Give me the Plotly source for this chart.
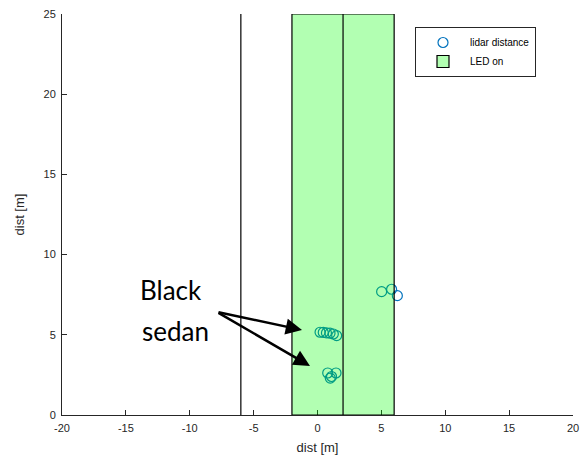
import plotly.graph_objects as go

# data
lidar_x = [0.2, 0.45, 0.7, 0.98, 1.24, 1.5, 0.8, 1.1, 1.0, 1.45, 5.02, 5.8, 6.25]
lidar_y = [5.16, 5.15, 5.12, 5.1, 5.05, 4.95, 2.62, 2.4, 2.3, 2.62, 7.69, 7.84, 7.44]
led_x = [-2, 6]
vlines_x = [-6, 2]
y_range = [0, 25]
x_range = [-20, 20]
x_ticks = [-20, -15, -10, -5, 0, 5, 10, 15, 20]
x_ticklabels = ["-20", "-15", "-10", "-5", "0", "5", "10", "15", "20"]
y_ticks = [0, 5, 10, 15, 20, 25]
y_ticklabels = ["0", "5", "10", "15", "20", "25"]

LED_FILL = "rgba(0,255,0,0.3)"

fig = go.Figure()
fig.add_trace(go.Scatter(
    x=lidar_x, y=lidar_y, mode="markers", name="lidar distance",
    marker=dict(symbol="circle-open", size=10, color="rgb(0,114,189)", line=dict(width=1.2)),
))
# legend entry for the LED patch (patch itself drawn as a shape above the points)
fig.add_trace(go.Bar(
    x=[None], y=[None], name="LED on",
    marker=dict(color=LED_FILL, line=dict(color="black", width=1.2)),
))
fig.add_shape(type="rect", xref="x", yref="y",
              x0=led_x[0], x1=led_x[1], y0=y_range[0], y1=y_range[1],
              fillcolor=LED_FILL, line=dict(color="black", width=1.2), layer="above")
for vx in vlines_x:
    fig.add_shape(type="line", xref="x", yref="y", x0=vx, x1=vx, y0=y_range[0], y1=y_range[1],
                  line=dict(color="black", width=1.2), layer="above")

W, H = 580, 460
L, R, T, B = 62, 7, 14, 45
ax_font = dict(family="Liberation Sans, Arial", size=11, color="#262626")
fig.update_layout(
    width=W, height=H,
    margin=dict(l=L, r=R, t=T, b=B, autoexpand=False),
    plot_bgcolor="white", paper_bgcolor="white",
    font=ax_font,
    legend=dict(x=(415 - 62) / 511, y=(415 - 27) / 401, xanchor="left", yanchor="top",
                bordercolor="#262626", borderwidth=1, bgcolor="white",
                font=dict(family="Liberation Sans, Arial", size=10, color="black"),
                tracegroupgap=0, itemwidth=44),
    xaxis=dict(range=x_range, tickvals=x_ticks, ticktext=x_ticklabels, ticks="inside", ticklen=5,
               showgrid=False, zeroline=False, showline=True, linecolor="#262626",
               tickcolor="#262626", automargin=False, ticklabeloverflow="allow",
               ticklabelstandoff=3,
               title=dict(text="dist [m]", standoff=9)),
    yaxis=dict(range=y_range, tickvals=y_ticks, ticktext=y_ticklabels, ticks="inside", ticklen=5,
               showgrid=False, zeroline=False, showline=True, linecolor="#262626",
               tickcolor="#262626", automargin=False, ticklabeloverflow="allow",
               ticklabelstandoff=3,
               title=dict(text="dist [m]", standoff=15)),
)
pw, ph = 511, 401
def px(x): return (x - 62) / pw
def py(y): return (415 - y) / ph
txt_font = dict(family="Lato, Open Sans", size=26, color="black")
fig.add_annotation(x=px(171), y=py(290), xref="paper", yref="paper", text="Black",
                   xanchor="center", yanchor="middle", showarrow=False, font=txt_font)
fig.add_annotation(x=px(175), y=py(331), xref="paper", yref="paper", text="sedan",
                   xanchor="center", yanchor="middle", showarrow=False, font=txt_font)
fig.add_annotation(x=px(302), y=py(330), ax=217 - 302, ay=312 - 330, xref="paper", yref="paper",
                   text="", showarrow=True,
                   arrowhead=2, arrowsize=1.3, arrowwidth=2.5, arrowcolor="black")
fig.add_annotation(x=px(310), y=py(366), ax=217 - 310, ay=312 - 366, xref="paper", yref="paper",
                   text="", showarrow=True,
                   arrowhead=2, arrowsize=1.3, arrowwidth=2.5, arrowcolor="black")

fig.write_html("out.html", config={"displayModeBar": False},
               post_script="document.body.style.margin='0';document.body.style.overflow='hidden';")
